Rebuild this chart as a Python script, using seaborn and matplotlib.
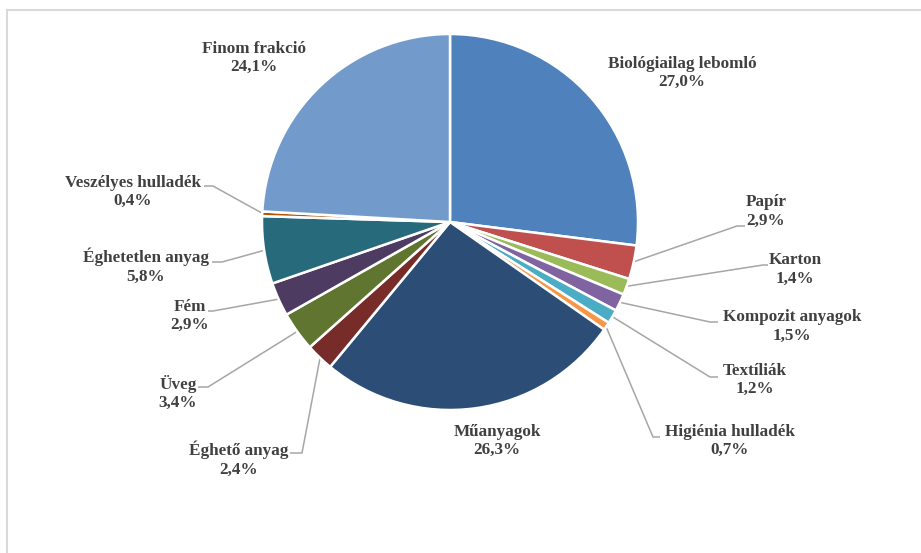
import numpy as np
import matplotlib
matplotlib.use("Agg")
import matplotlib.pyplot as plt
import seaborn as sns
from matplotlib.lines import Line2D

# ---- data ----
categories = ["Biológiailag lebomló", "Papír", "Karton", "Kompozit anyagok", "Textíliák",
              "Higiénia hulladék", "Műanyagok", "Éghető anyag", "Üveg", "Fém",
              "Éghetetlen anyag", "Veszélyes hulladék", "Finom frakció"]
shares = [27.0, 2.9, 1.4, 1.5, 1.2, 0.7, 26.3, 2.4, 3.4, 2.9, 5.8, 0.4, 24.1]
colors = ["#4F81BD", "#C0504D", "#9BBB59", "#8064A2", "#4BACC6", "#F79646", "#2C4D75",
          "#772C2A", "#5F7530", "#4D3B62", "#276A7C", "#B65708", "#729ACA"]

# ---- layout (pixel coords, y measured from top) ----
label_pos = [(682, 73), (766, 211.5), (795, 269.5), (792, 326.5), (755, 380), (730, 441),
             (497, 441), (239, 459), (178, 393), (190, 316), (146, 266), (133, 192), (254, 58)]
leader_elbow = [None, (737, 226), (763, 265), (710, 322), (710, 377), (653, 437), None,
                (302, 453), (208, 387), (213, 311), (222, 262), (213, 186), None]
leader_end = [None, 745, 768, 718, 718, 660, None, 290, 198, 208, 212, 204, None]

sns.set_theme(style="white")
plt.rcParams['font.family'] = ['Liberation Serif', 'DejaVu Serif']

W, H = 921, 553
fig = plt.figure(figsize=(W / 100, H / 100), dpi=100)
ax = fig.add_axes([0, 0, 1, 1])
cx, cy, R = 450, H - 222, 188
wedges, _ = ax.pie(shares, colors=colors, startangle=90, counterclock=False,
                   center=(cx, cy), radius=R,
                   wedgeprops=dict(edgecolor="white", linewidth=1.8))
ax.set_xlim(0, W)
ax.set_ylim(0, H)
ax.set_aspect("equal")
ax.axis("off")

for i, (name, val) in enumerate(zip(categories, shares)):
    lx, ly = label_pos[i]
    txt = f"{name}\n{val:.1f}%".replace(".", ",")
    ax.text(lx, H - ly, txt, ha="center", va="center", fontsize=12.3,
            fontweight="bold", color="#404040", linespacing=1.2)
    if leader_elbow[i] is not None:
        w = wedges[i]
        mid = np.deg2rad((w.theta1 + w.theta2) / 2)
        sx, sy = cx + (R - 1) * np.cos(mid), cy + (R - 1) * np.sin(mid)
        ex, ey = leader_elbow[i]
        ax.plot([sx, ex, leader_end[i]], [sy, H - ey, H - ey], color="#A6A6A6", lw=1.1,
                solid_capstyle="butt", zorder=0.5)

# chart border (top and left edges visible)
fig.add_artist(Line2D([7 / W, 1], [1 - 10 / H, 1 - 10 / H], color="#D9D9D9", lw=1.5,
                      transform=fig.transFigure))
fig.add_artist(Line2D([7 / W, 7 / W], [0, 1 - 10 / H], color="#D9D9D9", lw=1.5,
                      transform=fig.transFigure))

fig.savefig("out.png", dpi=100, facecolor="white")
